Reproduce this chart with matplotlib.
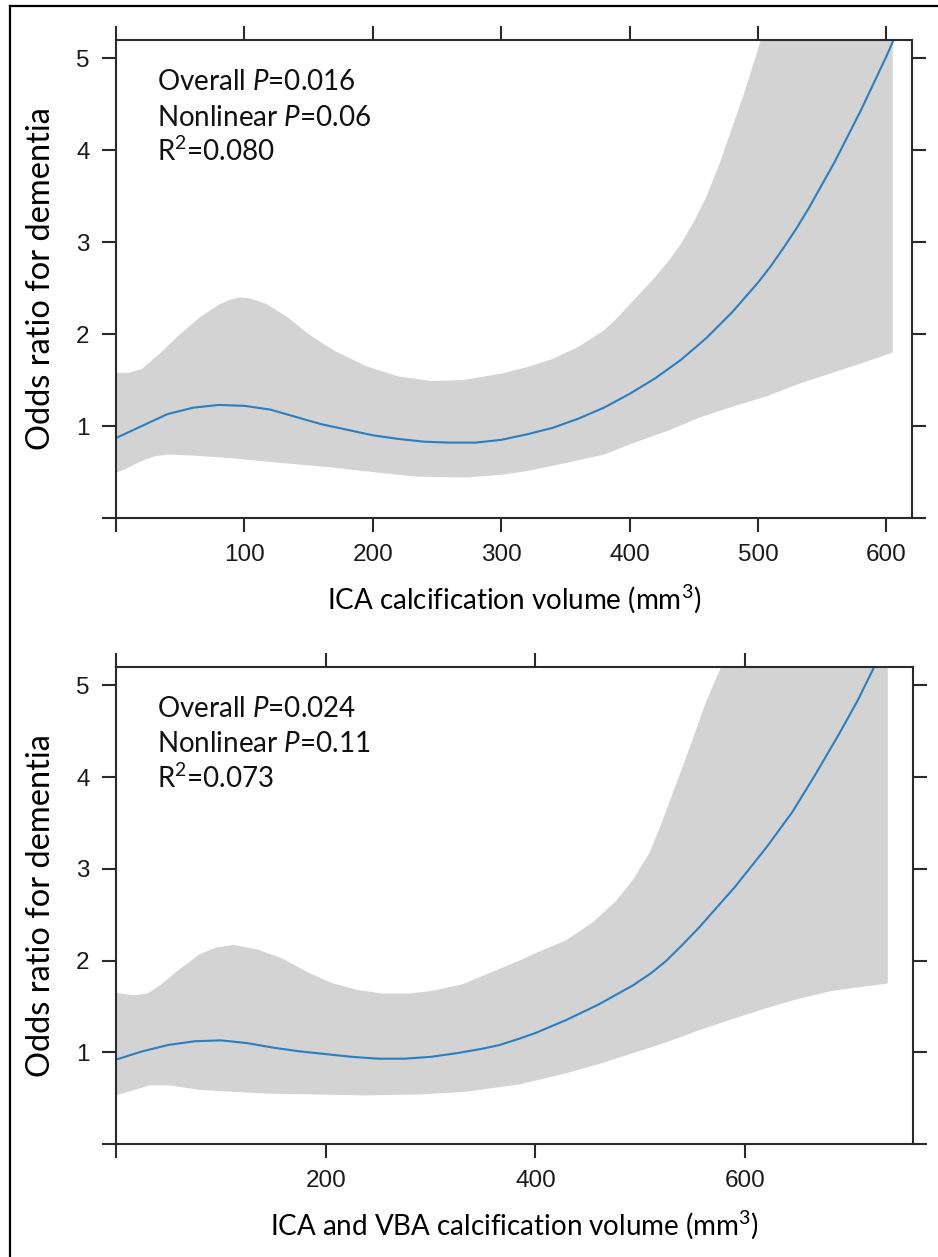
import matplotlib
matplotlib.use("Agg")
import matplotlib.pyplot as plt
from matplotlib.lines import Line2D
import numpy as np

plt.rcParams['font.family'] = ['Lato', 'DejaVu Sans']
plt.rcParams['mathtext.fontset'] = 'custom'
plt.rcParams['mathtext.rm'] = 'Lato'
plt.rcParams['mathtext.it'] = 'Lato:italic'

# ---- panel A: ICA calcification volume
a_fit_x = [0, 20, 40, 60, 80, 100, 120, 140, 160, 180, 200, 220, 240, 260, 280, 300,
           320, 340, 360, 380, 400, 420, 440, 460, 480, 500, 510, 520, 530, 540, 560, 580, 600, 605]
a_fit_y = [0.87, 1.00, 1.13, 1.20, 1.23, 1.22, 1.18, 1.10, 1.02, 0.96, 0.90, 0.86, 0.83, 0.82, 0.82, 0.85,
           0.91, 0.98, 1.08, 1.20, 1.35, 1.52, 1.72, 1.96, 2.24, 2.56, 2.74, 2.94, 3.15, 3.38, 3.88, 4.43, 5.02, 5.18]
a_hi_x = [0, 10, 20, 35, 50, 65, 80, 88, 96, 104, 117, 134, 151, 170, 195, 220, 246, 270, 300,
          320, 340, 360, 380, 390, 400, 410, 420, 430, 440, 450, 460, 470, 480, 490, 500, 520, 560, 605]
a_hi_y = [1.58, 1.58, 1.62, 1.80, 2.00, 2.18, 2.32, 2.37, 2.40, 2.39, 2.33, 2.18, 1.99, 1.82, 1.65, 1.54, 1.49, 1.50, 1.57,
          1.64, 1.73, 1.86, 2.04, 2.17, 2.32, 2.47, 2.62, 2.79, 2.98, 3.22, 3.50, 3.85, 4.25, 4.65, 5.10, 6.00, 7.60, 9.20]
a_lo_x = [0, 10, 20, 30, 40, 60, 90, 120, 168, 200, 234, 272, 300, 320, 351, 380, 402, 430,
          454, 480, 506, 530, 558, 580, 605]
a_lo_y = [0.49, 0.55, 0.62, 0.67, 0.69, 0.68, 0.65, 0.61, 0.55, 0.50, 0.45, 0.44, 0.47, 0.51, 0.60, 0.69, 0.81, 0.95,
          1.09, 1.21, 1.32, 1.45, 1.58, 1.68, 1.80]

# ---- panel B: ICA and VBA calcification volume
b_fit_x = [0, 25, 50, 75, 100, 125, 150, 175, 200, 225, 250, 275, 300, 325, 350, 366, 385, 400,
           429, 460, 493, 510, 525, 540, 556, 590, 620, 645, 667, 690, 707, 723, 736]
b_fit_y = [0.92, 1.01, 1.08, 1.12, 1.13, 1.10, 1.05, 1.01, 0.98, 0.95, 0.93, 0.93, 0.95, 0.99, 1.04, 1.08, 1.15, 1.21,
           1.35, 1.52, 1.73, 1.86, 2.00, 2.17, 2.36, 2.80, 3.23, 3.62, 4.03, 4.48, 4.83, 5.20, 5.50]
b_hi_x = [0, 16, 30, 42, 60, 80, 95, 112, 135, 159, 185, 207, 230, 254, 280, 302, 330, 366,
          385, 400, 429, 455, 477, 493, 509, 521, 534, 548, 563, 577, 620, 680, 736]
b_hi_y = [1.65, 1.62, 1.64, 1.73, 1.90, 2.07, 2.14, 2.17, 2.12, 2.02, 1.86, 1.75, 1.68, 1.64, 1.64, 1.67, 1.74, 1.91,
          2.00, 2.08, 2.22, 2.42, 2.65, 2.88, 3.18, 3.52, 3.92, 4.35, 4.83, 5.20, 6.50, 8.00, 9.00]
b_lo_x = [0, 15, 32, 50, 80, 110, 143, 190, 238, 290, 334, 366, 385, 429, 460, 493, 525, 556,
          590, 620, 650, 683, 736]
b_lo_y = [0.53, 0.58, 0.64, 0.64, 0.59, 0.57, 0.55, 0.54, 0.53, 0.54, 0.57, 0.62, 0.65, 0.77, 0.87, 0.99, 1.11, 1.24,
          1.37, 1.48, 1.58, 1.67, 1.75]

a_text = ["Overall $\\mathit{P}$=0.016", "Nonlinear $\\mathit{P}$=0.06", "R$^{2}$=0.080"]
b_text = ["Overall $\\mathit{P}$=0.024", "Nonlinear $\\mathit{P}$=0.11", "R$^{2}$=0.073"]

W, H = 938, 1257
fig = plt.figure(figsize=(W / 100, H / 100), dpi=100)

ax1 = fig.add_axes([116 / W, 1 - 518 / H, 796 / W, 478 / H])
ax2 = fig.add_axes([116 / W, 1 - 1144 / H, 797 / W, 477 / H])

dark = '#2a2a2a'
band = '#d3d3d3'
blue = '#2a7fc0'


def draw_panel(ax, fx, fy, hx, hy, lx, ly, xmax, xticks, xlab, notes):
    poly_x = np.concatenate([hx, lx[::-1]])
    poly_y = np.concatenate([hy, ly[::-1]])
    ax.fill(poly_x, poly_y, color=band, lw=0, zorder=1)
    ax.plot(fx, fy, color=blue, lw=1.5, zorder=2)
    ax.set_xlim(0, xmax)
    ax.set_ylim(0, 5.2)
    for s in ax.spines.values():
        s.set_linewidth(1.5)
        s.set_color(dark)
        s.set_zorder(3)
    ax.set_xticks(xticks)
    ax.set_xticklabels([''] + [str(t) for t in xticks[1:]])
    ax.set_yticks([0, 1, 2, 3, 4, 5])
    ax.set_yticklabels(['', '1', '2', '3', '4', '5'])
    ax.tick_params(direction='out', length=10, width=1.5, color=dark, pad=9,
                   top=True, right=True, labelsize=17.5, labelcolor='#1a1a1a')
    for lab in ax.get_xticklabels() + ax.get_yticklabels():
        lab.set_family('Liberation Sans')
    ax.set_xlabel(xlab, fontsize=20)
    ax.xaxis.set_label_coords(0.5, -0.168)
    ax.xaxis.label.set_va('center')
    ax.set_ylabel('Odds ratio for dementia', fontsize=23.5)
    ax.yaxis.set_label_coords(-0.094, 0.5)
    ax.yaxis.label.set_va('center')
    for i, t in enumerate(notes):
        ax.text(0.052, 0.895 - i * 0.074, t, transform=ax.transAxes, fontsize=20,
                va='baseline', ha='left', color='#111111')


draw_panel(ax1, a_fit_x, a_fit_y, a_hi_x, a_hi_y, a_lo_x, a_lo_y, 620,
           [0, 100, 200, 300, 400, 500, 600], 'ICA calcification volume (mm$^{3}$)', a_text)
draw_panel(ax2, b_fit_x, b_fit_y, b_hi_x, b_hi_y, b_lo_x, b_lo_y, 760,
           [0, 200, 400, 600], 'ICA and VBA calcification volume (mm$^{3}$)', b_text)

# outer frame, cut off at right and bottom
fig.add_artist(Line2D([10 / W, 10 / W], [0, 1 - 6 / H], transform=fig.transFigure, color='black', lw=1.6))
fig.add_artist(Line2D([10 / W, 1], [1 - 6 / H, 1 - 6 / H], transform=fig.transFigure, color='black', lw=1.6))

fig.savefig('out.png', dpi=100, facecolor='white')
